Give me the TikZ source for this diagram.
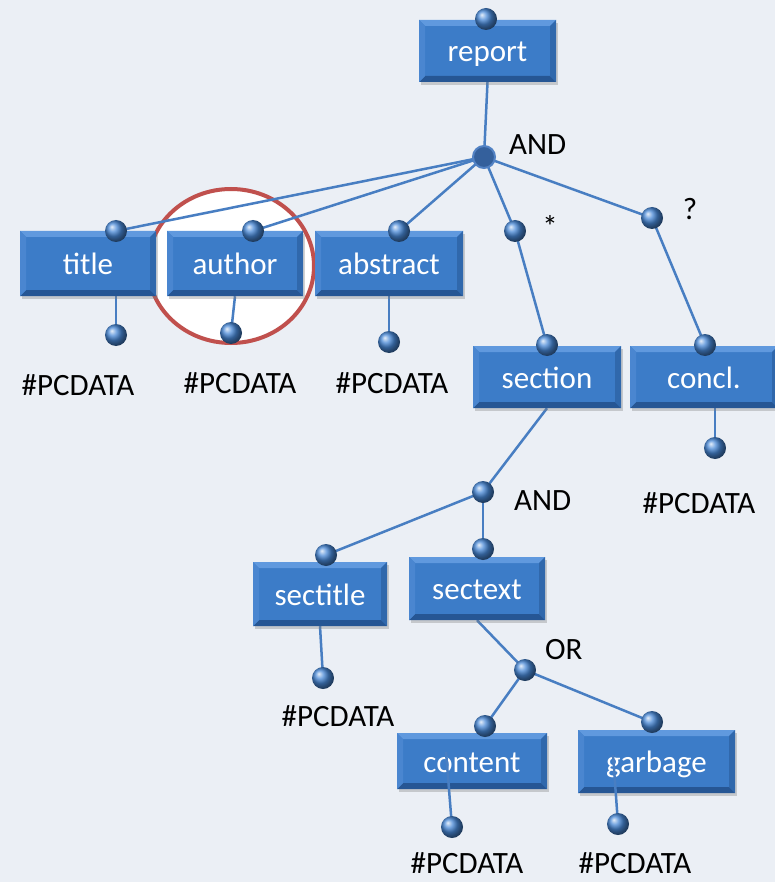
\documentclass[tikz,border=0pt]{standalone}
\usepackage{fontspec}
\setmainfont{Carlito}
\usetikzlibrary{calc,shadows}

\definecolor{bg}{RGB}{235,239,245}
\definecolor{boxblue}{RGB}{60,124,200}
\definecolor{boxlight}{RGB}{96,153,222}
\definecolor{boxmid}{RGB}{74,134,208}
\definecolor{boxdark}{RGB}{38,86,148}
\definecolor{boxside}{RGB}{48,104,172}
\definecolor{wire}{RGB}{72,126,194}
\definecolor{ring}{RGB}{192,80,77}
\definecolor{knob}{RGB}{72,136,214}
\definecolor{hubfill}{RGB}{52,96,156}
\definecolor{hubrim}{RGB}{82,130,196}

\pgfdeclarelayer{back}
\pgfdeclarelayer{wires}
\pgfdeclarelayer{over}
\pgfdeclarelayer{front}
\pgfsetlayers{back,wires,main,over,front}

\tikzset{
  elem/.style={rectangle, inner sep=0pt, fill=boxblue, text=white,
    font=\fontsize{31}{33}\selectfont, text height=22pt, text depth=0pt,
    drop shadow={shadow xshift=2pt, shadow yshift=-3pt, opacity=0.35},
    path picture={
      \fill[boxlight] (path picture bounding box.north west) -- (path picture bounding box.north east)
        -- ($(path picture bounding box.north east)+(-6pt,-6pt)$) -- ($(path picture bounding box.north west)+(6pt,-6pt)$) -- cycle;
      \fill[boxdark] (path picture bounding box.south west) -- (path picture bounding box.south east)
        -- ($(path picture bounding box.south east)+(-6pt,6pt)$) -- ($(path picture bounding box.south west)+(6pt,6pt)$) -- cycle;
      \fill[boxmid] (path picture bounding box.north west) -- ($(path picture bounding box.north west)+(6pt,-6pt)$)
        -- ($(path picture bounding box.south west)+(6pt,6pt)$) -- (path picture bounding box.south west) -- cycle;
      \fill[boxside] (path picture bounding box.north east) -- ($(path picture bounding box.north east)+(-6pt,-6pt)$)
        -- ($(path picture bounding box.south east)+(-6pt,6pt)$) -- (path picture bounding box.south east) -- cycle;
    }},
  knobball/.style={circle, minimum size=22pt, inner sep=0pt, ball color=knob},
  hub/.style={circle, minimum size=22pt, inner sep=0pt, fill=hubfill, draw=hubrim, line width=2pt},
  wireline/.style={draw=wire, line width=2.5pt},
  lbl/.style={text=black, inner sep=0pt, font=\fontsize{31}{33}\selectfont},
  leaf/.style={lbl, anchor=base},
}

\begin{document}
\begin{tikzpicture}[x=1pt,y=-1pt]
  \begin{pgfonlayer}{back}
    \fill[bg] (0,0) rectangle (775,882);
    % highlighted author element
    \draw[ring, fill=white, line width=4pt] (231,266) ellipse [x radius=83, y radius=77];
  \end{pgfonlayer}
  \useasboundingbox (0,0) rectangle (775,882);

  % element boxes
  \node[elem, minimum width=137pt, minimum height=62pt] (report) at (487.5,51) {report};
  \node[elem, minimum width=136pt, minimum height=65pt] (title) at (88,263.5) {title};
  \node[elem, minimum width=136pt, minimum height=65pt] (author) at (235,263.5) {author};
  \node[elem, minimum width=148pt, minimum height=65pt] (abstract) at (389,263.5) {abstract};
  \node[elem, minimum width=148pt, minimum height=62pt] (section) at (547,377) {section};
  \node[elem, minimum width=148pt, minimum height=62pt] (concl) at (704,377) {concl.};
  \node[elem, minimum width=134pt, minimum height=64pt] (sectitle) at (320,594) {sectitle};
  \node[elem, minimum width=136pt, minimum height=63pt] (sectext) at (477,588.5) {sectext};
  \node[elem, minimum width=150pt, minimum height=56pt] (content) at (472,761) {content};
  \node[elem, minimum width=157pt, minimum height=63pt] (garbage) at (656.5,761.5) {garbage};

  % knobs: operators, element tops and text leaves
  \begin{pgfonlayer}{front}
    \node[hub] (and1) at (484,157) {};
    \node[knobball] (tR) at (486,19) {};
    \node[knobball] (tT) at (116,231) {};
    \node[knobball] (tA) at (253,231) {};
    \node[knobball] (tAb) at (399,231) {};
    \node[knobball] (star) at (515,231) {};
    \node[knobball] (opt) at (652,218) {};
    \node[knobball] (tS) at (547,345) {};
    \node[knobball] (tC) at (705,345) {};
    \node[knobball] (and2) at (483,492) {};
    \node[knobball] (tST) at (326,555) {};
    \node[knobball] (tSX) at (483,549) {};
    \node[knobball] (or) at (525,670) {};
    \node[knobball] (tCo) at (485,726) {};
    \node[knobball] (tG) at (652,722) {};
    \node[knobball] (pT) at (116,335) {};
    \node[knobball] (pA) at (231,333) {};
    \node[knobball] (pAb) at (389,342) {};
    \node[knobball] (pC) at (715,448) {};
    \node[knobball] (pST) at (323,678) {};
    \node[knobball] (pCo) at (452,827) {};
    \node[knobball] (pG) at (618,824) {};
  \end{pgfonlayer}

  \coordinate (cS) at (446,752);
  \coordinate (gS) at (613,755);

  % connectors
  \begin{pgfonlayer}{wires}
    \draw[wireline] (report.south) -- (and1.center);
    \draw[wireline] (and1.center) -- (tT.center);
    \draw[wireline] (and1.center) -- (tA.center);
    \draw[wireline] (and1.center) -- (tAb.center);
    \draw[wireline] (and1.center) -- (star.center);
    \draw[wireline] (and1.center) -- (opt.center);
    \draw[wireline] (star.center) -- (tS.center);
    \draw[wireline] (opt.center) -- (tC.center);
    \draw[wireline] (section.south) -- (and2.center);
    \draw[wireline] (and2.center) -- (tST.center);
    \draw[wireline] (and2.center) -- (tSX.center);
    \draw[wireline] (sectext.south) -- (or.center);
    \draw[wireline] (or.center) -- (tCo.center);
    \draw[wireline] (or.center) -- (tG.center);
    \draw[wireline] (pT |- title.south) -- (pT.center);
    \draw[wireline] (author.south) -- (pA.center);
    \draw[wireline] (pAb |- abstract.south) -- (pAb.center);
    \draw[wireline] (pC |- concl.south) -- (pC.center);
    \draw[wireline] (sectitle.south) -- (pST.center);
  \end{pgfonlayer}
  \begin{pgfonlayer}{over}
    \draw[wireline] (cS) -- (pCo.center);
    \draw[wireline] (gS) -- (pG.center);
  \end{pgfonlayer}

  % operator labels
  \node[lbl, anchor=west] (andA) at (509,145) {AND};
  \node[lbl] (starL) at (550,226) {*};
  \node[lbl] (optL) at (690,209) {?};
  \node[lbl, anchor=west] (andB) at (514,501) {AND};
  \node[lbl, anchor=west] (orL) at (545,650) {OR};

  % PCDATA labels
  \node[leaf] (dT) at (78,395) {\#PCDATA};
  \node[leaf] (dA) at (240,393) {\#PCDATA};
  \node[leaf] (dAb) at (392,393) {\#PCDATA};
  \node[leaf] (dC) at (699,513) {\#PCDATA};
  \node[leaf] (dST) at (338,726) {\#PCDATA};
  \node[leaf] (dCo) at (467,873) {\#PCDATA};
  \node[leaf] (dG) at (635,873) {\#PCDATA};
\end{tikzpicture}
\end{document}
